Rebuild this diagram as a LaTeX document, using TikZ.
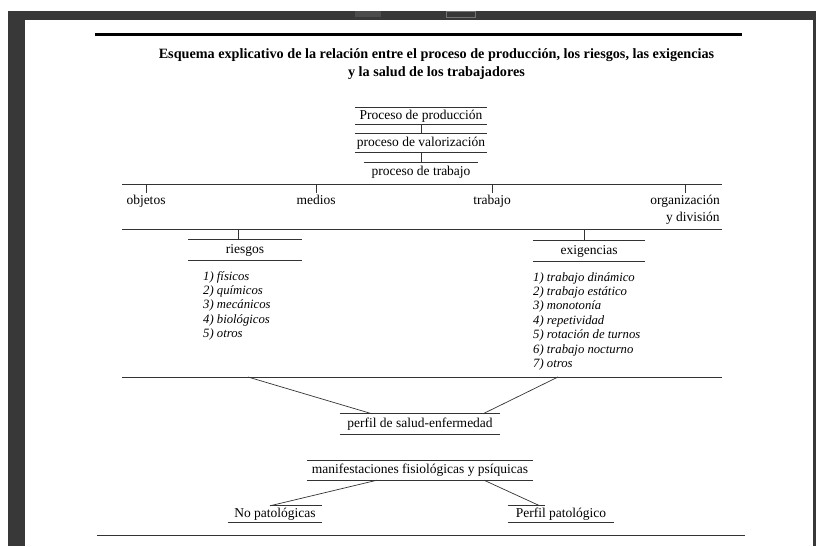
\documentclass[tikz,border=0pt]{standalone}
\usepackage{fontspec}
\setmainfont{Liberation Serif}
\usetikzlibrary{positioning, calc}

\begin{document}
\begin{tikzpicture}[x=1pt, y=-1pt, on grid, inner sep=0pt,
    every node/.style={font=\fontsize{13.5}{15}\selectfont},
    regla/.style={draw=black!80, line width=0.7pt},
    caja/.style={minimum width=#1, minimum height=17pt},
    lista/.style={align=left, font=\fontsize{12.7}{14.4}\selectfont\itshape},
    marco/.style={fill=black!78}]
    \useasboundingbox (0,0) rectangle (816,546);
    \fill[white] (0,0) rectangle (816,546);
    %marco de la pantalla
    \fill[marco] (8,11) rectangle (816,20);
    \fill[marco] (8,20) rectangle (25,546);
    \fill[marco] (813,20) rectangle (816,546);
    \fill[black!70] (355,11) rectangle (381,17);
    \draw[black!55] (446.5,11) rectangle (475.5,17.5);

    %titulo
    \coordinate (barra1) at (95,34.5);
    \coordinate (barra2) at (742,34.5);
    \draw[line width=3.5pt] (barra1) -- (barra2);
    \node[align=center, font=\bfseries\fontsize{14.2}{18}\selectfont] (titulo) at (436.5,64)
        {Esquema explicativo de la relación entre el proceso de producción, los riesgos, las exigencias\\y la salud de los trabajadores};

    %parte superior
    \node[caja=132pt, minimum height=16pt] (prod) at (421,116)       {Proceso de producción};
    \node[caja=132pt, minimum height=18pt] (valor) [below=27pt of prod] {proceso de valorización};
    \node[caja=114pt, minimum height=18pt] (trab) [below=29pt of valor] {proceso de trabajo};
    \draw[regla] (prod.north west) -- (prod.north east) (prod.south west) -- (prod.south east);
    \draw[regla] (valor.north west) -- (valor.north east) (valor.south west) -- (valor.south east);
    \draw[regla] (trab.north west) -- (trab.north east);
    \draw[regla] (prod.south) -- (valor.north);
    \draw[regla] (valor.south) -- (trab.north);

    \coordinate (l1o) at (122,184);
    \coordinate (l1e) at (722,184);
    \draw[regla] (l1o) -- (l1e);
    \node[anchor=north] (obj) at (146,195) {objetos};
    \node[anchor=north] (med) at (316,195) {medios};
    \node[anchor=north] (trj) at (492,195) {trabajo};
    \node[anchor=north, align=right, font=\fontsize{13.5}{16.5}\selectfont] (org) at (685,195) {organización\\y división};
    \draw[regla] (obj.north |- l1o) -- ([yshift=2pt]obj.north);
    \draw[regla] (med.north |- l1o) -- ([yshift=2pt]med.north);
    \draw[regla] (trj.north |- l1o) -- ([yshift=2pt]trj.north);
    \draw[regla] (org.north |- l1o) -- ([yshift=2pt]org.north);

    %riesgos y exigencias
    \coordinate (l2o) at (122,229);
    \coordinate (l2e) at (722,229);
    \draw[regla] (l2o) -- (l2e);
    \node[caja=113pt, minimum height=20pt] (riesg) at (245,250) {riesgos};
    \node[caja=112pt, minimum height=20pt] (exig) at (589,251) {exigencias};
    \draw[regla] (riesg.north west) -- (riesg.north east) (riesg.south west) -- (riesg.south east);
    \draw[regla] (exig.north west) -- (exig.north east) (exig.south west) -- (exig.south east);
    \draw[regla] ($(riesg.north)+(-7,0)$) -- ($(riesg.north)+(-7,-11)$);
    \draw[regla] ($(exig.north)+(-5,0)$) -- ($(exig.north)+(-5,-12)$);

    \node[lista, anchor=north west] (lriesg) at (203,271)
        {1) físicos\\2) químicos\\3) mecánicos\\4) biológicos\\5) otros};
    \node[lista, anchor=north west] (lexig) at (533,272)
        {1) trabajo dinámico\\2) trabajo estático\\3) monotonía\\4) repetividad\\5) rotación de turnos\\6) trabajo nocturno\\7) otros};

    %parte inferior
    \coordinate (l3o) at (122,377);
    \coordinate (l3e) at (722,377);
    \coordinate (d1) at (248,377);
    \coordinate (d2) at (558,377);
    \draw[regla] (l3o) -- (l3e);
    \node[caja=160pt, minimum height=20pt] (perfil) at (420,424) {perfil de salud-enfermedad};
    \draw[regla] (perfil.north west) -- (perfil.north east) (perfil.south west) -- (perfil.south east);
    \draw[regla] (d1) -- ($(perfil.north)+(-48,0)$);
    \draw[regla] (d2) -- ($(perfil.north)+(63,0)$);

    \node[caja=226pt, minimum height=19pt] (manif) at (420,470.5) {manifestaciones fisiológicas y psíquicas};
    \draw[regla] (manif.north west) -- (manif.north east) (manif.south west) -- (manif.south east);
    \node[caja=94pt, minimum height=16pt] (nopat) at (275,514) {No patológicas};
    \node[caja=106pt, minimum height=16pt] (perpat) at (561,514) {Perfil patológico};
    \draw[regla] ($(manif.south)+(-43,0)$) -- ($(nopat.north)+(-5,0)$);
    \draw[regla] ($(nopat.north)+(-5,0)$) -- (nopat.north east);
    \draw[regla] (nopat.south west) -- (nopat.south east);
    \draw[regla] ($(manif.south)+(64,0)$) -- ($(perpat.north west)+(32,0)$);
    \draw[regla] (perpat.north west) -- ($(perpat.north west)+(37,0)$);
    \draw[regla] (perpat.south west) -- (perpat.south east);

    \coordinate (pie1) at (97,535);
    \coordinate (pie2) at (745,535);
    \draw[regla] (pie1) -- (pie2);
\end{tikzpicture}
\end{document}
